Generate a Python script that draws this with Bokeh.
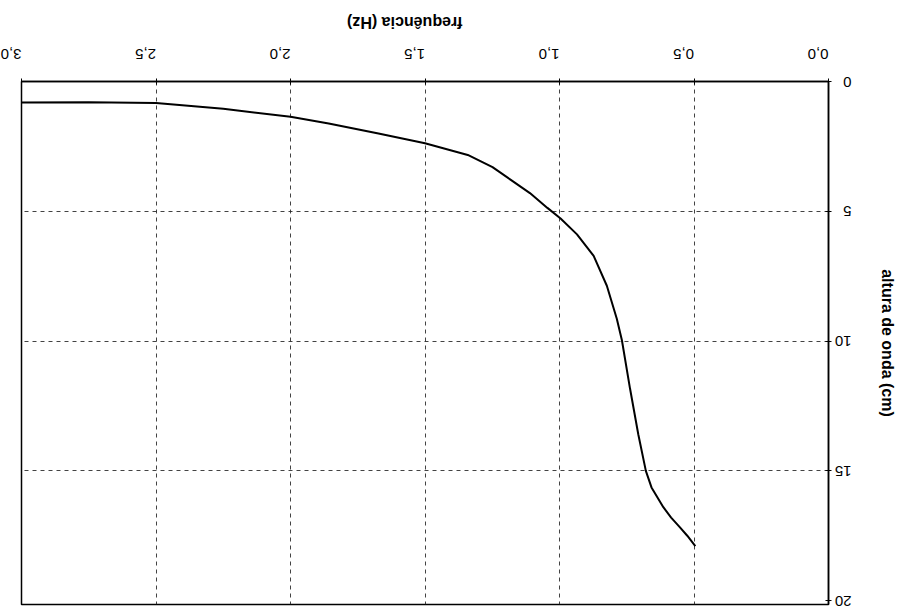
import math
from bokeh.plotting import figure
from bokeh.models import Range1d, FixedTicker
from bokeh.layouts import column
from bokeh.core.properties import value
from bokeh.embed import file_html
from bokeh.resources import INLINE

# data read from the (180-degree rotated) reference chart
freq = [3.0, 2.75, 2.5, 2.25, 2.0, 1.858, 1.673, 1.5, 1.341, 1.249, 1.181, 1.11,
        1.045, 0.996, 0.935, 0.873, 0.824, 0.787, 0.768, 0.738, 0.707, 0.679,
        0.658, 0.614, 0.585, 0.553, 0.525, 0.495]
height = [0.81, 0.8, 0.83, 1.05, 1.36, 1.62, 2.0, 2.38, 2.83, 3.3, 3.79, 4.3,
          4.87, 5.28, 5.89, 6.72, 7.87, 9.14, 9.97, 11.82, 13.6, 15.0,
          15.64, 16.4, 16.8, 17.17, 17.5, 17.9]

x_ticks = [0.0, 0.5, 1.0, 1.5, 2.0, 2.5, 3.0]
x_tick_labels = ["0,0", "0,5", "1,0", "1,5", "2,0", "2,5", "3,0"]
y_ticks = [0, 5, 10, 15, 20]
y_tick_labels = ["0", "5", "10", "15", "20"]
y_grid = [0, 5, 10, 15]
x_title = "frequência (Hz)"
y_title = "altura de onda (cm)"

FONT = "Liberation Sans"
W, H, TOP_H = 899, 609, 36

# strip above the chart holding the upside-down x title
top = figure(width=W, height=TOP_H, output_backend="svg", toolbar_location=None,
             x_range=Range1d(0, W), y_range=Range1d(0, TOP_H),
             x_axis_type=None, y_axis_type=None,
             min_border_left=0, min_border_right=0, min_border_top=0,
             min_border_bottom=0)
top.outline_line_color = None
top.grid.visible = False
top.background_fill_color = "white"
top.border_fill_color = "white"
top.text(x=[427], y=[TOP_H - 22], text=[x_title], angle=math.pi,
         text_align="center", text_baseline="middle",
         text_font=value(FONT), text_font_size="16px", text_font_style="bold",
         text_color="black")

p = figure(width=W, height=H - TOP_H, output_backend="svg", toolbar_location=None,
           x_range=Range1d(3, 0), y_range=Range1d(20.15, 0),
           x_axis_location="above", y_axis_location="right",
           min_border_left=21, min_border_right=66, min_border_top=81 - TOP_H,
           min_border_bottom=5)

p.line(freq, height, line_color="black", line_width=2)

for ax, ticks, labels, standoff in ((p.xaxis[0], x_ticks, x_tick_labels, 25),
                                     (p.yaxis[0], y_ticks, y_tick_labels, 20)):
    ax.ticker = FixedTicker(ticks=ticks)
    ax.major_label_overrides = {t: l for t, l in zip(ticks, labels)}
    ax.major_label_orientation = math.pi
    ax.major_label_text_font = FONT
    ax.major_label_text_font_size = "15px"
    ax.major_label_text_color = "black"
    ax.major_label_standoff = standoff
    ax.axis_line_color = "black"
    ax.axis_line_width = 1.5
    ax.major_tick_line_color = "black"
    ax.major_tick_in = 3
    ax.major_tick_out = 3
    ax.minor_tick_line_color = None

yax = p.yaxis[0]
yax.axis_label = y_title
yax.axis_label_text_font = FONT
yax.axis_label_text_font_size = "16px"
yax.axis_label_text_font_style = "bold"
yax.axis_label_text_color = "black"
yax.axis_label_standoff = 8

p.xgrid.ticker = FixedTicker(ticks=x_ticks)
p.ygrid.ticker = FixedTicker(ticks=y_grid)
for g in (p.xgrid[0], p.ygrid[0]):
    g.grid_line_color = "#222222"
    g.grid_line_dash = "4 4"
    g.grid_line_width = 1
    g.grid_line_alpha = 0.85

p.outline_line_color = "black"
p.outline_line_width = 1.5
p.outline_line_alpha = 1
p.background_fill_color = "white"
p.border_fill_color = "white"

layout = column(top, p, spacing=0)
open("out.html", "w").write(file_html(layout, INLINE))
